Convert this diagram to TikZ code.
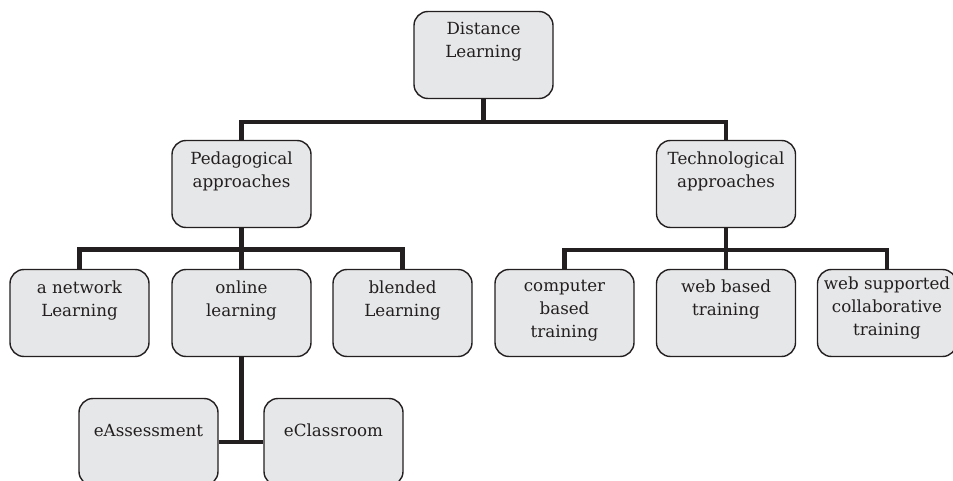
\documentclass[tikz,border=0pt]{standalone}
\usepackage{fontspec}
\setmainfont{DejaVu Serif}
\usetikzlibrary{positioning}
\definecolor{boxfill}{HTML}{E6E7E8}
\definecolor{inkline}{HTML}{231F20}
\begin{document}
\begin{tikzpicture}
[x=1pt,y=-1pt,
  boxdecorate/.style={shape=rectangle,rounded corners=14pt,draw=inkline,line width=1.4pt,fill=boxfill,minimum width=139pt,minimum height=87pt,inner sep=0pt},%
  textdecorate/.style={align=center,inner sep=0pt,text=inkline,font=\fontsize{16.7}{23}\selectfont},%
  linkdecorate/.style={draw=inkline,line width=4.5pt}]
\useasboundingbox (0,0) rectangle (953,481);
% boxes and their texts
\node (dist) at (483.5,55) [boxdecorate] {};
\node (dist-t) [textdecorate,below=11pt of dist.north] {Distance\\Learning};
\node (ped) at (241.5,184) [boxdecorate] {};
\node (ped-t) [textdecorate,below=12pt of ped.north] {Pedagogical\\approaches};
\node (tech) at (726,184) [boxdecorate] {};
\node (tech-t) [textdecorate,below=12pt of tech.north] {Technological\\approaches};
\node (net) at (79.5,313) [boxdecorate] {};
\node (net-t) [textdecorate,below=12pt of net.north] {a network\\Learning};
\node (onl) at (241.5,313) [boxdecorate] {};
\node (onl-t) [textdecorate,below=12pt of onl.north] {online\\learning};
\node (blend) at (402.5,313) [boxdecorate] {};
\node (blend-t) [textdecorate,below=12pt of blend.north] {blended\\Learning};
\node (comp) at (564.5,313) [boxdecorate] {};
\node (comp-t) [textdecorate,below=11pt of comp.north] {computer\\based\\training};
\node (webb) at (726,313) [boxdecorate] {};
\node (webb-t) [textdecorate,below=11pt of webb.north] {web based\\training};
\node (webs) at (887,313) [boxdecorate] {};
\node (webs-t) [textdecorate,below=8pt of webs.north] {web supported\\collaborative\\training};
\node (eass) at (148.5,442) [boxdecorate] {};
\node (eass-t) [textdecorate,below=26pt of eass.north] {eAssessment};
\node (ecls) at (333.5,442) [boxdecorate] {};
\node (ecls-t) [textdecorate,below=26pt of ecls.north] {eClassroom};
% connectors
\path[linkdecorate]
(dist.south) -- ++(0,23) -| (ped.north)
(dist.south) -- ++(0,23) -| (tech.north)
(ped.south) -- ++(0,21.5) -| (net.north)
(ped.south) -- (onl.north)
(ped.south) -- ++(0,21.5) -| (blend.north)
(tech.south) -- ++(0,22) -| (comp.north)
(tech.south) -- (webb.north)
(tech.south) -- ++(0,22) -| (webs.north)
(onl.south) |- (eass.east)
(onl.south) |- (ecls.west);
\end{tikzpicture}
\end{document}
